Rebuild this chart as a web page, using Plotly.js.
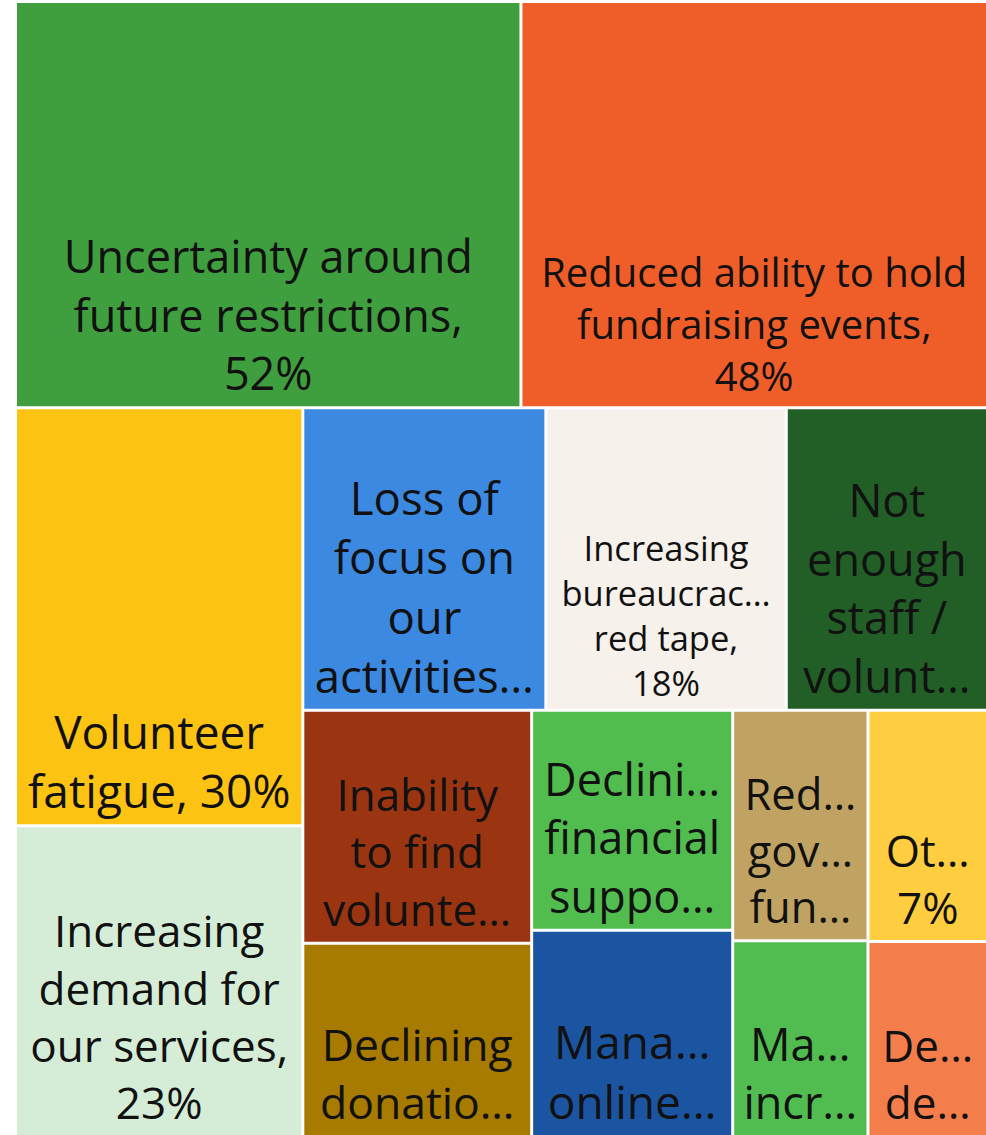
<!DOCTYPE html>
<html>
<head>
<meta charset="utf-8">
<script src="https://cdn.plot.ly/plotly-3.0.1.min.js"></script>
<style>body { margin: 0; background: #ffffff; }</style>
</head>
<body>
<div id="challengesTreemap"></div>
<script>
// Challenges reported (% of respondents)
const labels = [
  'Uncertainty around future restrictions',
  'Reduced ability to hold fundraising events',
  'Volunteer fatigue',
  'Increasing demand for our services',
  'Loss of focus on our activities',
  'Increasing bureaucracy / red tape',
  'Not enough staff / volunteers',
  'Inability to find volunteers',
  'Declining donations',
  'Declining financial support',
  'Managing online activities',
  'Reduced government funding',
  'Managing increased demand',
  'Other',
  'Declining demand'
];
const values = [52, 48, 30.4, 22.6, 18.6, 18.4, 15.4, 13.5, 11.2, 11.2, 10.5, 7.9, 6.7, 7, 5.9];

// text as it is shown in the tiles
const shownText = [
  'Uncertainty around<br>future restrictions,<br>52%',
  'Reduced ability to hold<br>fundraising events,<br>48%',
  'Volunteer<br>fatigue, 30%',
  'Increasing<br>demand for<br>our services,<br>23%',
  'Loss of<br>focus on<br>our<br>activities…',
  'Increasing<br>bureaucrac…<br>red tape,<br>18%',
  'Not<br>enough<br>staff /<br>volunt…',
  'Inability<br>to find<br>volunte…',
  'Declining<br>donatio…',
  'Declini…<br>financial<br>suppo…',
  'Mana…<br>online…',
  'Red…<br>gov…<br>fun…',
  'Ma…<br>incr…',
  'Ot…<br>7%',
  'De…<br>de…'
];

// block each item sits in
const groups = ['top', 'top', 'left', 'left', 'mid', 'mid', 'mid', 'c1', 'c1', 'c2', 'c2', 'c3', 'c3', 'c4', 'c4'];
const groupParents = {
  top: 'All', bottom: 'All',
  left: 'bottom', right: 'bottom',
  mid: 'right', lower: 'right',
  c1: 'lower', c2: 'lower', c3: 'lower', c4: 'lower'
};

const colors = [
  '#3f9e3d', '#ef5e29', '#fdc313', '#d5edd6', '#3c89e1',
  '#f6f1eb', '#225f27', '#9b3511', '#a77b00', '#51bd4f',
  '#1b55a1', '#c0a363', '#51bc4f', '#fecd40', '#f47d4c'
];
const fontSizes = [45, 40, 46, 44, 45.5, 34.5, 45, 44, 44.5, 45, 46, 43.5, 45, 44, 44];

function createTreemap(id) {
  const ids = ['All'];
  const parents = [''];
  const vals = [0];
  const texts = [''];
  const cols = ['#ffffff'];
  const sizes = [12];

  Object.keys(groupParents).forEach(g => {
    ids.push(g); parents.push(groupParents[g]); vals.push(0);
    texts.push(''); cols.push('#ffffff'); sizes.push(12);
  });

  labels.forEach((l, i) => {
    ids.push(l); parents.push(groups[i]); vals.push(values[i]);
    texts.push(shownText[i]); cols.push(colors[i]); sizes.push(fontSizes[i]);
  });

  const data = [{
    type: 'treemap',
    ids: ids,
    labels: ids,
    parents: parents,
    values: vals,
    text: texts,
    textinfo: 'text',
    textposition: 'bottom center',
    branchvalues: 'remainder',
    sort: false,
    tiling: { packing: 'dice-slice', pad: 3 },
    marker: {
      colors: cols,
      pad: { t: 0, l: 0, r: 0, b: 0 },
      line: { width: 0, color: '#ffffff' },
      depthfade: false
    },
    textfont: { family: 'Open Sans, sans-serif', size: sizes, color: '#111111' },
    insidetextfont: { family: 'Open Sans, sans-serif', size: sizes, color: '#111111' },
    pathbar: { visible: false },
    hoverinfo: 'label+value'
  }];

  const layout = {
    width: 986,
    height: 1135,
    margin: { t: 3, r: 0, b: 0, l: 17 },
    paper_bgcolor: '#ffffff'
  };

  Plotly.newPlot(id, data, layout, { displayModeBar: false });
}

createTreemap('challengesTreemap');
</script>
</body>
</html>
